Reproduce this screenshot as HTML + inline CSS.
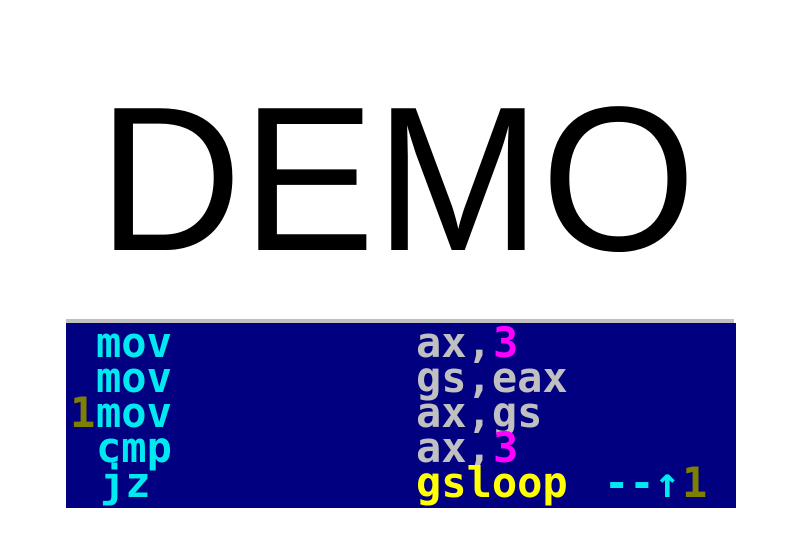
<!DOCTYPE html>
<html><head><meta charset="utf-8"><style>
html,body{margin:0;padding:0;background:#fff;width:800px;height:533px;overflow:hidden}
</style></head><body>
<svg width="800" height="533" viewBox="0 0 800 533" xmlns="http://www.w3.org/2000/svg">
<rect width="800" height="533" fill="#fff"/>
<text x="397" y="250" text-anchor="middle" style="font-family:'Liberation Sans',Arial,sans-serif" font-size="206" fill="#000" textLength="598" lengthAdjust="spacingAndGlyphs">DEMO</text>
<rect x="66" y="323" width="670" height="185" fill="#000080"/>
<rect x="66" y="319" width="668" height="4" fill="#c0c0c0"/>
<g style="font-family:'DejaVu Sans Mono',monospace" font-size="42" font-weight="bold">
<text x="96" y="357" fill="#00e8f0">mov</text>
<text x="416" y="357" fill="#c0c0c0">ax,</text><text x="493" y="357" fill="#ff00ff">3</text>
<text x="96" y="392" fill="#00e8f0">mov</text>
<text x="416" y="392" fill="#c0c0c0">gs,eax</text>
<text x="70" y="427" fill="#808000">1</text><text x="96" y="427" fill="#00e8f0">mov</text>
<text x="416" y="427" fill="#c0c0c0">ax,gs</text>
<text x="96" y="462" fill="#00e8f0">cmp</text>
<text x="416" y="462" fill="#c0c0c0">ax,</text><text x="493" y="462" fill="#ff00ff">3</text>
<text x="100" y="497" fill="#00e8f0">jz</text>
<text x="416" y="497" fill="#ffff00">gsloop</text>
<text x="604" y="497" fill="#00e8f0">--↑</text><text x="682" y="497" fill="#808000">1</text>
</g>
</svg>
</body></html>
